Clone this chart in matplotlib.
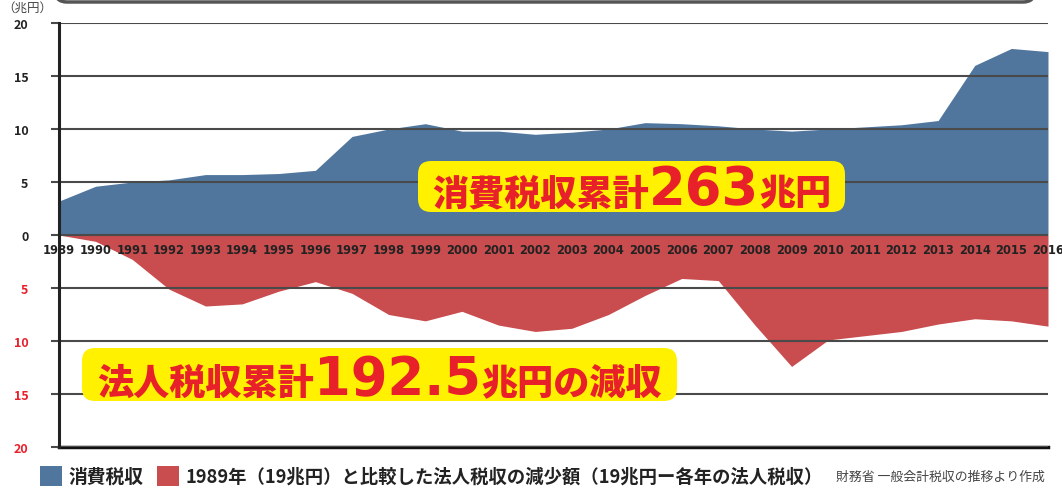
import matplotlib
matplotlib.use("Agg")
import matplotlib.pyplot as plt
from matplotlib.patches import FancyBboxPatch, Rectangle

plt.rcParams["font.family"] = ["Noto Sans CJK JP", "DejaVu Sans"]

# Data (trillion yen)
years = list(range(1989, 2017))
consumption_tax = [3.2, 4.6, 5.0, 5.2, 5.7, 5.7, 5.8, 6.1, 9.3, 10.0, 10.5, 9.8,
                   9.8, 9.5, 9.7, 10.0, 10.6, 10.5, 10.3, 10.0, 9.8, 10.0, 10.2,
                   10.4, 10.8, 16.0, 17.6, 17.3]
corp_tax_loss = [0.0, 0.6, 2.3, 5.1, 6.7, 6.5, 5.3, 4.4, 5.5, 7.5, 8.1, 7.2,
                 8.5, 9.1, 8.8, 7.5, 5.7, 4.1, 4.3, 8.5, 12.4, 9.9, 9.5, 9.1,
                 8.4, 7.9, 8.1, 8.6]
upper_ticks = [0, 5, 10, 15, 20]
lower_ticks = [-5, -10, -15, -20]

BLUE = "#50769e"
RED = "#c94c4e"
TEXT_RED = "#e8202a"
YELLOW = "#fff100"
GRID = "#4a4a4a"

W, H = 1062, 489
fig = plt.figure(figsize=(W / 100, H / 100), dpi=100)
ax = fig.add_axes([59 / W, 41 / H, 989 / W, 424 / H])

ax.fill_between(years, 0, consumption_tax, color=BLUE, lw=0, zorder=1)
ax.fill_between(years, 0, [-v for v in corp_tax_loss], color=RED, lw=0, zorder=1)

ax.set_xlim(1989, 2016)
ax.set_ylim(-20, 20)
ax.set_axisbelow(False)

yt = upper_ticks[::-1] + lower_ticks
ax.set_yticks(yt)
ax.set_yticklabels([str(abs(v)) for v in yt])
for lab, v in zip(ax.get_yticklabels(), yt):
    lab.set_color("#222222" if v >= 0 else TEXT_RED)
    lab.set_fontweight("bold")
ax.tick_params(axis="y", length=6, width=1.5, color=GRID, pad=16, labelsize=9)
ax.set_xticks([])
ax.grid(axis="y", color=GRID, lw=1.5)

for s in ["top", "right"]:
    ax.spines[s].set_visible(False)
ax.spines["left"].set_linewidth(2.2)
ax.spines["left"].set_color("#222222")
ax.spines["left"].set_zorder(5)
ax.spines["bottom"].set_linewidth(2.5)
ax.spines["bottom"].set_color("#111111")

# year labels just below the zero line
for yr in years:
    ax.text(yr, -1.35, str(yr), ha="center", va="center", fontsize=8.3,
            fontweight="bold", color="#222222", family="DejaVu Sans",
            clip_on=False, zorder=4)

# unit label
fig.text(2 / W, 1 - 8 / H, "（兆円）", fontsize=9, color="#444444",
         ha="left", va="center")

# top frame remnant
fig.add_artist(FancyBboxPatch((55 / 100, (H - 3) / 100), 980 / 100, 0.6,
                              boxstyle="round,pad=0,rounding_size=0.12",
                              transform=fig.dpi_scale_trans, fc="white",
                              ec="#555555", lw=2.5, zorder=1))


def label_box(x0, y0, x1, y1, parts, baseline):
    fig.add_artist(FancyBboxPatch((x0 / 100, (H - y1) / 100), (x1 - x0) / 100,
                                  (y1 - y0) / 100,
                                  boxstyle="round,pad=0,rounding_size=0.13",
                                  transform=fig.dpi_scale_trans, fc=YELLOW,
                                  ec="none", zorder=3))
    texts = []
    for s, size, fam in parts:
        texts.append(fig.text(0, 0, s, fontsize=size, fontweight="heavy",
                              color=TEXT_RED, family=fam, ha="left",
                              va="baseline", zorder=4))
    renderer = fig.canvas.get_renderer()
    widths = [t.get_window_extent(renderer).width for t in texts]
    x = (x0 + x1) / 2 - sum(widths) / 2
    for t, w in zip(texts, widths):
        t.set_position((x / W, (H - baseline) / H))
        x += w


CJK = ["Noto Sans CJK JP", "DejaVu Sans"]
label_box(418, 162, 845, 213,
          [("消費税収累計", 26, CJK), ("263", 38, "DejaVu Sans"), ("兆円", 26, CJK)],
          205)
label_box(82, 349, 677, 402,
          [("法人税収累計", 26, CJK), ("192.5", 38, "DejaVu Sans"),
           ("兆円の減収", 26, CJK)],
          395)

# legend
fig.add_artist(Rectangle((40 / W, (H - 487) / H), 22 / W, 20 / H,
                         transform=fig.transFigure, fc=BLUE, ec="none"))
fig.text(68 / W, 1 - 477 / H, "消費税収", fontsize=13.5, fontweight="bold",
         color="#222222", va="center")
fig.add_artist(Rectangle((157 / W, (H - 487) / H), 22 / W, 20 / H,
                         transform=fig.transFigure, fc=RED, ec="none"))
fig.text(185 / W, 1 - 477 / H,
         "1989年（19兆円）と比較した法人税収の減少額（19兆円ー各年の法人税収）",
         fontsize=13.2, fontweight="bold", color="#222222", va="center")
fig.text(1045 / W, 1 - 477 / H, "財務省 一般会計税収の推移より作成",
         fontsize=9.3, color="#444444", va="center", ha="right")

fig.savefig("out.png", dpi=100)
